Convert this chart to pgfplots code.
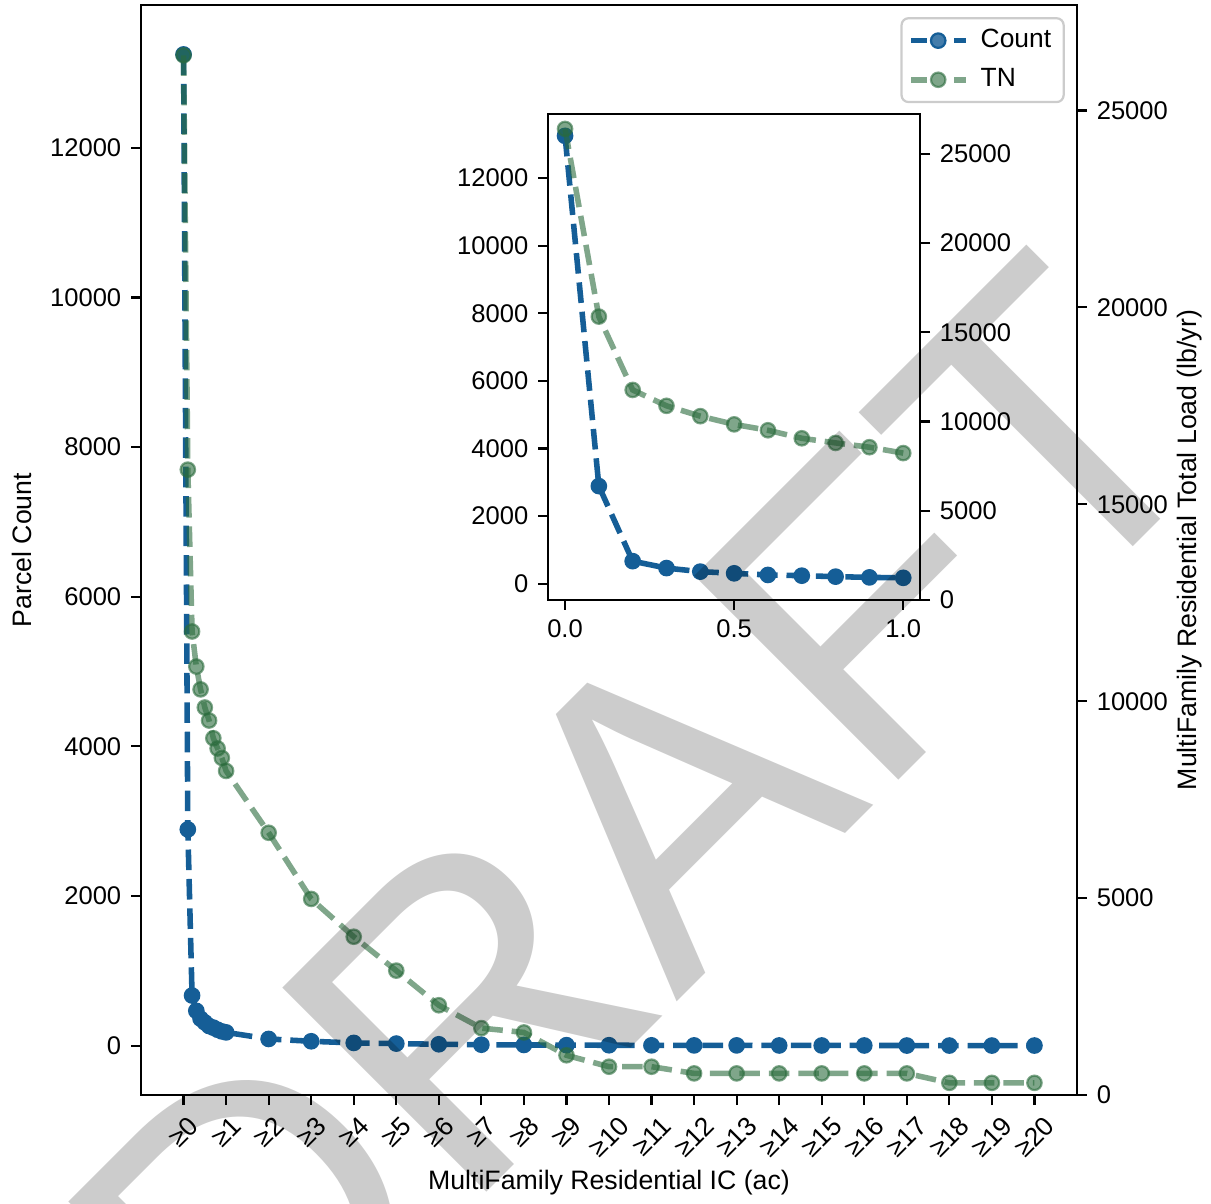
\documentclass[border=0pt]{standalone}
\usepackage{fontspec}
\setmainfont{Liberation Sans}
\usepackage{graphicx}
\usepackage{pgfplots}
\usepackage{pgfplotstable}
\pgfplotsset{compat=1.18}

\definecolor{cntblue}{RGB}{21,94,151}
\definecolor{tngreen}{RGB}{42,107,60}

% Parcel count and total nitrogen load by minimum impervious cover
\pgfplotstableread{
x    count  tn
0    13250  26400
0.1  2890   15880
0.2  670    11770
0.3  465    10880
0.4  360    10300
0.5  310    9840
0.6  262    9510
0.7  240    9060
0.8  212    8800
0.9  190    8560
1    177    8230
2    89     6660
3    58     4980
4    36     4020
5    27     3160
6    18     2280
7    12     1700
8    9      1590
9    6      1010
10   5      720
11   4      720
12   3      550
13   3      550
14   2      550
15   2      550
16   2      550
17   1      550
18   1      310
19   1      310
20   1      310
}\mfdata

\newcommand{\tickfont}{\fontsize{9.2pt}{11pt}\selectfont}
\newcommand{\labelfont}{\fontsize{9.6pt}{11.5pt}\selectfont}

\pgfplotsset{
  every axis/.append style={
    scale only axis,
    tick align=outside,
    major tick length=3.6pt,
    tick style={black, line width=0.8pt},
    axis line style={line width=0.8pt},
    scaled ticks=false,
    /pgf/number format/1000 sep={},
    /pgf/number format/assume math mode=true,
    tick label style={font=\tickfont},
    label style={font=\labelfont},
  },
  countline/.style={
    cntblue, line width=2pt, dash pattern=on 7.4pt off 3.2pt,
    mark=*, mark size=2.6pt,
    mark options={solid, line width=0.8pt, fill=cntblue, draw=cntblue},
  },
  tnline/.style={
    tngreen, opacity=0.6, line width=2pt, dash pattern=on 7.4pt off 3.2pt,
    mark=*, mark size=2.6pt,
    mark options={solid, line width=0.8pt, fill=tngreen, draw=tngreen},
  },
}

\begin{document}
\begin{tikzpicture}

% ---------- main panel: parcel count (left axis) ----------
\begin{axis}[
  at={(50.76pt,38.88pt)}, anchor=south west,
  width=336.9pt, height=392.4pt,
  xmin=-1, xmax=21, ymin=-661, ymax=13912,
  xtick={0,...,20},
  xticklabels={
    {\rotatebox{45}{≥0}},{\rotatebox{45}{≥1}},{\rotatebox{45}{≥2}},
    {\rotatebox{45}{≥3}},{\rotatebox{45}{≥4}},{\rotatebox{45}{≥5}},
    {\rotatebox{45}{≥6}},{\rotatebox{45}{≥7}},{\rotatebox{45}{≥8}},
    {\rotatebox{45}{≥9}},{\rotatebox{45}{≥10}},{\rotatebox{45}{≥11}},
    {\rotatebox{45}{≥12}},{\rotatebox{45}{≥13}},{\rotatebox{45}{≥14}},
    {\rotatebox{45}{≥15}},{\rotatebox{45}{≥16}},{\rotatebox{45}{≥17}},
    {\rotatebox{45}{≥18}},{\rotatebox{45}{≥19}},{\rotatebox{45}{≥20}}},
  xticklabel style={anchor=north, font=\fontsize{9.5pt}{11pt}\selectfont},
  ytick={0,2000,...,12000},
  xtick pos=bottom, ytick pos=left,
  xlabel={MultiFamily Residential IC (ac)},
  ylabel={Parcel Count},
  xlabel style={at={(axis description cs:0.5,-0.0807)}, anchor=center},
  ylabel style={at={(axis description cs:-0.127,0.5)}, anchor=center},
]
\addplot[countline] table[x=x, y=count] {\mfdata};
\end{axis}

% ---------- main panel: total load (right axis) ----------
\begin{axis}[
  at={(50.76pt,38.88pt)}, anchor=south west,
  width=336.9pt, height=392.4pt,
  xmin=-1, xmax=21, ymin=0, ymax=27680,
  axis x line=none, axis y line*=right,
  ytick={0,5000,...,25000},
  ylabel={MultiFamily Residential Total Load (lb/yr)},
  ylabel style={at={(axis description cs:1.1207,0.5)}, anchor=center},
  legend style={
    at={(1,1)}, anchor=north east, xshift=-4.4pt, yshift=-4.4pt,
    draw=black!20, line width=0.8pt, rounded corners=2.5pt,
    fill=white, fill opacity=0.8, text opacity=1,
    font=\fontsize{9.5pt}{11pt}\selectfont,
    inner xsep=2.5pt, inner ysep=2pt, row sep=2pt,
    /tikz/every odd column/.append style={column sep=2.2pt},
  },
  legend cell align=left,
  legend image code/.code={
    \draw[dash pattern=on 5.8pt off 9.7pt on 4.3pt, mark=none] (0pt,0pt) -- (19.8pt,0pt);
    \draw[only marks] plot coordinates {(9.7pt,0pt)};
  },
]
\addlegendimage{countline}
\addlegendentry{Count}
\addplot[tnline] table[x=x, y=tn] {\mfdata};
\addlegendentry{TN}
\end{axis}

% ---------- inset: detail for 0 to 1 ac ----------
\begin{axis}[
  at={(197.3pt,217.1pt)}, anchor=south west,
  width=133.9pt, height=175pt,
  xmin=-0.05, xmax=1.05, ymin=-477, ymax=13904,
  axis background/.style={fill=white},
  xtick={0,0.5,1},
  xticklabel style={/pgf/number format/.cd, fixed, fixed zerofill, precision=1},
  ytick={0,2000,...,12000},
  xtick pos=bottom, ytick pos=left,
]
\addplot[countline, restrict x to domain=0:1] table[x=x, y=count] {\mfdata};
\end{axis}

\begin{axis}[
  at={(197.3pt,217.1pt)}, anchor=south west,
  width=133.9pt, height=175pt,
  xmin=-0.05, xmax=1.05, ymin=0, ymax=27250,
  axis x line=none, axis y line*=right,
  ytick={0,5000,...,25000},
]
\addplot[tnline, restrict x to domain=0:1] table[x=x, y=tn] {\mfdata};
\end{axis}

% watermark
\node[rotate=45, inner sep=0pt, text=black, text opacity=0.2,
      font=\fontsize{151pt}{151pt}\selectfont] at (230.7pt,132.8pt) {DRAFT};

\pgfresetboundingbox
\path (0,0) rectangle (435.9pt,433.05pt);
\end{tikzpicture}
\end{document}
